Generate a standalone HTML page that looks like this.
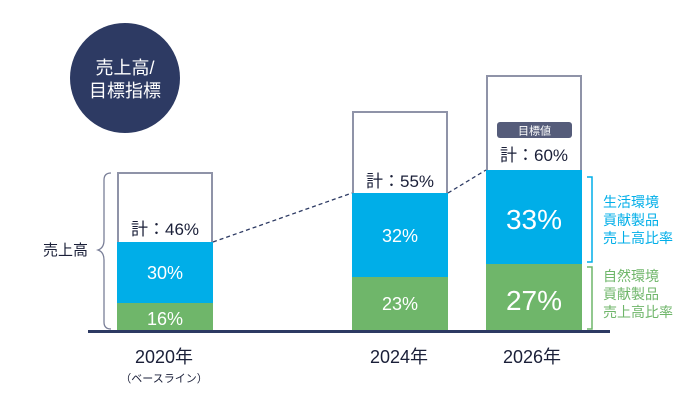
<!DOCTYPE html>
<html><head><meta charset="utf-8"><style>
body{margin:0;background:#fff;}
svg text{font-family:"Liberation Sans","Noto Sans CJK JP",sans-serif;}
</style></head><body>
<svg width="700" height="406" viewBox="0 0 700 406" xmlns="http://www.w3.org/2000/svg">
<rect width="700" height="406" fill="#fff"/>
<circle cx="125" cy="78" r="55" fill="#2d3a63"/>
<text x="125" y="74" font-size="18" fill="#fff" text-anchor="middle">売上高/</text>
<text x="125" y="97" font-size="18" fill="#fff" text-anchor="middle">目標指標</text>

<!-- bar 1 -->
<rect x="118" y="173" width="94" height="158" fill="#fff" stroke="#8f93a8" stroke-width="2"/>
<rect x="117" y="242" width="96" height="61" fill="#00aee8"/>
<rect x="117" y="303" width="96" height="28" fill="#6fb66a"/>
<text x="165" y="235" font-size="17" fill="#1a1f38" text-anchor="middle">計：46%</text>
<text x="165" y="279" font-size="18" fill="#fff" text-anchor="middle">30%</text>
<text x="165" y="325" font-size="18" fill="#fff" text-anchor="middle">16%</text>

<!-- bar 2 -->
<rect x="353" y="112" width="94" height="219" fill="#fff" stroke="#8f93a8" stroke-width="2"/>
<rect x="352" y="193" width="96" height="84" fill="#00aee8"/>
<rect x="352" y="277" width="96" height="54" fill="#6fb66a"/>
<text x="400" y="187" font-size="17" fill="#1a1f38" text-anchor="middle">計：55%</text>
<text x="400" y="242" font-size="18" fill="#fff" text-anchor="middle">32%</text>
<text x="400" y="310" font-size="18" fill="#fff" text-anchor="middle">23%</text>

<!-- bar 3 -->
<rect x="487" y="76" width="94" height="255" fill="#fff" stroke="#8f93a8" stroke-width="2"/>
<rect x="486" y="170" width="96" height="94" fill="#00aee8"/>
<rect x="486" y="264" width="96" height="67" fill="#6fb66a"/>
<rect x="497" y="122" width="75" height="16" rx="3" fill="#555c7a"/>
<text x="534.5" y="134.5" font-size="11" fill="#fff" text-anchor="middle">目標値</text>
<text x="534" y="161" font-size="17" fill="#1a1f38" text-anchor="middle">計：60%</text>
<text x="534" y="229" font-size="28" fill="#fff" text-anchor="middle">33%</text>
<text x="534" y="310" font-size="28" fill="#fff" text-anchor="middle">27%</text>

<!-- dashed -->
<line x1="213" y1="242" x2="352" y2="193" stroke="#2d3a63" stroke-width="1.3" stroke-dasharray="4,3"/>
<line x1="448" y1="193" x2="486" y2="170" stroke="#2d3a63" stroke-width="1.3" stroke-dasharray="4,3"/>

<!-- axis -->
<line x1="88" y1="331.5" x2="610" y2="331.5" stroke="#2d3a63" stroke-width="3"/>

<!-- left brace -->
<path d="M111 173 Q104 173 104 180 L104 240 Q104 248 98 250 Q104 252 104 260 L104 322 Q104 329 111 329" fill="none" stroke="#7a7f98" stroke-width="1.3"/>
<text x="43" y="255" font-size="15" fill="#1a1f38">売上高</text>

<!-- right brackets -->
<path d="M587 177 L592 177 L592 262 L587 262" fill="none" stroke="#00aee8" stroke-width="1.5"/>
<path d="M587 267 L592 267 L592 329 L587 329" fill="none" stroke="#6fb66a" stroke-width="1.5"/>
<text x="603" y="207" font-size="14" fill="#00aee8">生活環境</text>
<text x="603" y="225" font-size="14" fill="#00aee8">貢献製品</text>
<text x="603" y="243" font-size="14" fill="#00aee8">売上高比率</text>
<text x="603" y="281" font-size="14" fill="#6fb66a">自然環境</text>
<text x="603" y="299" font-size="14" fill="#6fb66a">貢献製品</text>
<text x="603" y="317" font-size="14" fill="#6fb66a">売上高比率</text>

<!-- x labels -->
<text x="164" y="363" font-size="18" fill="#1a1f38" text-anchor="middle">2020年</text>
<text x="164" y="382" font-size="11" fill="#1a1f38" text-anchor="middle">（ベースライン）</text>
<text x="399" y="363" font-size="18" fill="#1a1f38" text-anchor="middle">2024年</text>
<text x="532" y="363" font-size="18" fill="#1a1f38" text-anchor="middle">2026年</text>
</svg>
</body></html>
